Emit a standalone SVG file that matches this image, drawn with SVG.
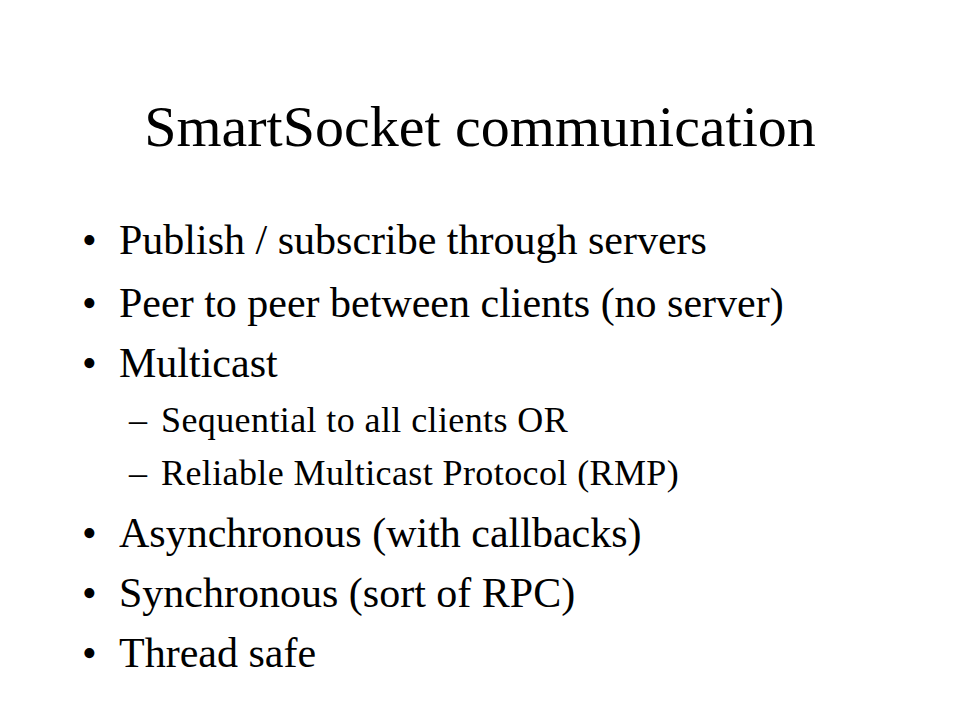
<svg xmlns="http://www.w3.org/2000/svg" width="960" height="720" viewBox="0 0 960 720">
<style>
text { font-family: "Liberation Serif", "Times New Roman", serif; fill: #000; }
.title { font-size: 58px; }
.l1 { font-size: 42px; }
.l2 { font-size: 36px; letter-spacing: 0.4px; }
</style>
<rect width="960" height="720" fill="#fff"/>
<g id="title"><text class="title" x="480" y="146" text-anchor="middle">SmartSocket communication</text></g>
<g id="bullets">
<text class="l1" x="82" y="254">•</text><text class="l1" x="119" y="254">Publish / subscribe through servers</text>
<text class="l1" x="82" y="317">•</text><text class="l1" x="119" y="317">Peer to peer between clients (no server)</text>
<text class="l1" x="82" y="377">•</text><text class="l1" x="119" y="377">Multicast</text>
<text class="l2" x="129" y="432">–</text><text class="l2" x="161" y="432">Sequential to all clients OR</text>
<text class="l2" x="129" y="485">–</text><text class="l2" x="161" y="485">Reliable Multicast Protocol (RMP)</text>
<text class="l1" x="82" y="547">•</text><text class="l1" x="119" y="547">Asynchronous (with callbacks)</text>
<text class="l1" x="82" y="607">•</text><text class="l1" x="119" y="607">Synchronous (sort of RPC)</text>
<text class="l1" x="82" y="667">•</text><text class="l1" x="119" y="667">Thread safe</text>
</g>
</svg>
